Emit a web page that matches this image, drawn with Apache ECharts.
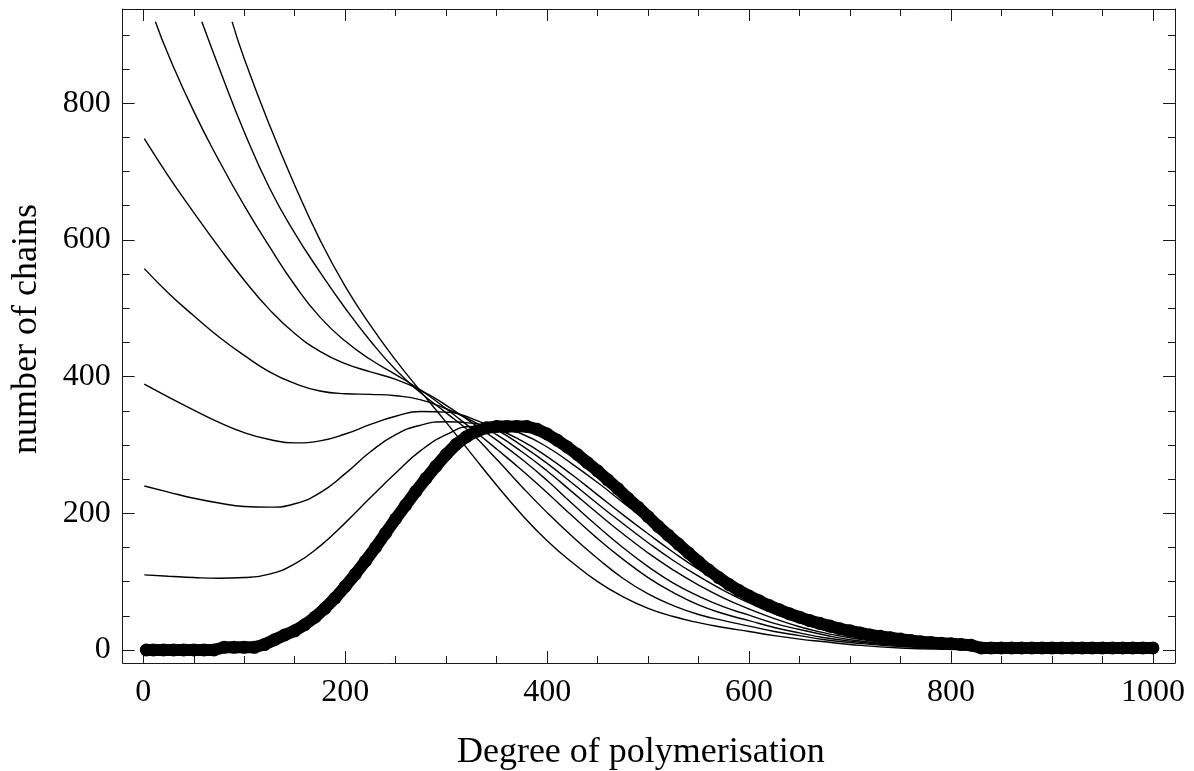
<!DOCTYPE html>
<html>
<head>
<meta charset="utf-8">
<script src="https://cdn.jsdelivr.net/npm/echarts@6/dist/echarts.min.js"></script>
<style>
html,body{margin:0;padding:0;background:#fff;}
#chart{width:1194px;height:771px;}
</style>
</head>
<body>
<div id="chart"></div>
<script>
// ---- data ----
const xMajorTicks = [0, 200, 400, 600, 800, 1000];
const xMinorTicks = [50, 100, 150, 250, 300, 350, 450, 500, 550, 650, 700, 750, 850, 900, 950];
const yMajorTicks = [0, 200, 400, 600, 800];
const yMinorTicks = [50, 100, 150, 250, 300, 350, 450, 500, 550, 650, 700, 750, 850, 900];

const xTitle = 'Degree of polymerisation';
const yTitle = 'number of chains';

// measured distribution (thick dotted curve)
const dotX = [3, 10, 20, 30, 40, 50, 60, 70, 80, 90, 100, 110, 120, 130, 140, 150, 160, 170, 180, 190,
  200, 210, 220, 230, 240, 250, 260, 270, 280, 290, 300, 310, 320, 330, 340, 350, 360, 370, 380, 390,
  400, 410, 420, 430, 440, 450, 460, 470, 480, 490, 500, 510, 520, 530, 540, 550, 560, 570, 580, 590,
  600, 610, 620, 630, 640, 650, 660, 670, 680, 690, 700, 710, 720, 730, 740, 750, 760, 770, 780, 790,
  800, 810, 820, 830, 840, 850, 860, 870, 880, 890, 900, 910, 920, 930, 940, 950, 960, 970, 980, 990, 1000];
const dotY = [0, 0, 0, 0, 0, 0, 0, 0, 4, 4, 4, 4, 8, 15, 22, 28, 37, 48, 61, 76,
  93, 111, 130, 150, 171, 192, 212, 232, 251, 269, 286, 301, 312, 320, 325, 327, 327, 327, 327, 323,
  316, 307, 297, 286, 274, 262, 249, 236, 222, 209, 195, 181, 168, 155, 142, 129, 117, 106, 96, 87,
  79, 72, 65, 59, 53, 48, 43, 39, 35, 31, 28, 25, 22, 20, 18, 16, 14, 12, 11, 10,
  9, 8, 7, 3, 3, 3, 3, 3, 3, 3, 3, 3, 3, 3, 3, 3, 3, 3, 3, 3, 3];

// model curves [x, y]
const curve1 = [[1,110],[25,108],[50,106],[75,105],[100,106],[125,111],[150,126],[175,152],[200,186],[225,223],[250,259],[275,292],[300,315],[325,327],[350,327],[375,316],[400,297],[425,272],[450,245],[475,216],[500,187],[525,158],[550,130],[575,105],[600,83],[625,66],[650,51],[675,38],[700,28],[750,14],[800,6],[850,3],[900,1],[1000,0]];
const curve2 = [[1,240],[25,231],[50,222],[75,215],[100,210],[125,209],[150,214],[175,230],[200,258],[225,290],[250,315],[275,329],[300,334],[325,332],[350,323],[375,306],[400,283],[425,256],[450,227],[475,198],[500,170],[525,143],[550,118],[575,96],[600,76],[625,59],[650,46],[675,34],[700,25],[750,12],[800,5],[850,2],[900,1],[1000,0]];
const curve3 = [[1,389],[25,370],[50,351],[75,333],[100,318],[125,308],[150,303],[175,306],[200,316],[225,330],[250,342],[275,349],[300,348],[325,339],[350,322],[375,299],[400,273],[425,244],[450,214],[475,185],[500,157],[525,131],[550,108],[575,87],[600,69],[625,53],[650,40],[675,29],[700,21],[750,10],[800,4],[850,2],[900,1],[1000,0]];
const curve4 = [[1,558],[25,522],[50,489],[75,458],[100,431],[125,407],[150,390],[175,379],[200,375],[225,374],[250,372],[275,366],[300,353],[325,336],[350,315],[375,290],[400,262],[425,231],[450,200],[475,170],[500,142],[525,117],[550,95],[575,76],[600,60],[625,46],[650,34],[675,25],[700,18],[750,8],[800,3],[850,1],[900,0],[1000,0]];
const curve5 = [[1,748],[25,693],[50,640],[75,589],[100,541],[125,498],[150,463],[175,437],[200,419],[225,407],[250,396],[275,380],[300,358],[325,333],[350,307],[375,279],[400,248],[425,214],[450,181],[475,150],[500,122],[525,98],[550,79],[575,63],[600,51],[625,39],[650,30],[675,22],[700,15],[750,7],[800,3],[850,1],[900,0],[1000,0]];
const curve6 = [[12,919],[25,870],[50,788],[75,716],[100,650],[125,590],[150,534],[175,487],[200,452],[225,425],[250,403],[275,380],[300,353],[325,324],[350,294],[375,263],[400,230],[425,196],[450,163],[475,133],[500,106],[525,84],[550,66],[575,53],[600,43],[625,33],[650,25],[675,18],[700,13],[750,6],[800,2],[850,1],[900,0],[1000,0]];
const curve7 = [[58,919],[75,852],[100,758],[125,676],[150,610],[175,553],[200,500],[225,452],[250,410],[275,376],[300,347],[325,317],[350,279],[375,239],[400,201],[425,166],[450,134],[475,105],[500,82],[525,65],[550,52],[575,43],[600,35],[625,27],[650,21],[675,15],[700,11],[750,5],[800,2],[850,1],[900,0],[1000,0]];
const curve8 = [[88,919],[100,865],[125,768],[150,680],[175,600],[200,532],[225,475],[250,424],[275,378],[300,333],[325,287],[350,241],[375,198],[400,160],[425,128],[450,100],[475,78],[500,61],[525,49],[550,40],[575,33],[600,27],[625,21],[650,16],[675,12],[700,8],[750,3],[800,1],[850,0],[1000,0]];
const modelCurves = [curve1, curve2, curve3, curve4, curve5, curve6, curve7, curve8];

// ---- chart ----
const FONT = 'Liberation Serif';
const INK = '#1a1a1a';
const X_MIN = -20.4, X_MAX = 1021.9, Y_MIN = -19, Y_MAX = 937.8;
const plain = function (v) { return String(v); };

function xAx(position, ticks, len, showLine, showLabel) {
  return {
    type: 'value', position: position, min: X_MIN, max: X_MAX,
    splitLine: {show: false},
    axisLine: {show: showLine, onZero: false, lineStyle: {color: INK, width: 1}},
    axisTick: {show: true, inside: true, length: len, customValues: ticks, lineStyle: {color: INK, width: 1}},
    axisLabel: showLabel ? {show: true, customValues: ticks, formatter: plain, fontFamily: FONT, fontSize: 32, color: '#000', margin: 14}
                         : {show: false}
  };
}
function yAx(position, ticks, len, showLine, showLabel) {
  return {
    type: 'value', position: position, min: Y_MIN, max: Y_MAX,
    splitLine: {show: false},
    axisLine: {show: showLine, onZero: false, lineStyle: {color: INK, width: 1}},
    axisTick: {show: true, inside: true, length: len, customValues: ticks, lineStyle: {color: INK, width: 1}},
    axisLabel: showLabel ? {show: true, customValues: ticks, formatter: plain, fontFamily: FONT, fontSize: 32, color: '#000', margin: 12}
                         : {show: false}
  };
}

const xAxes = [
  Object.assign(xAx('bottom', xMajorTicks, 12, true, true), {
    name: xTitle, nameLocation: 'middle', nameGap: 72,
    nameTextStyle: {fontFamily: FONT, fontSize: 36, color: '#000', padding: [0, 16, 0, 0]}
  }),
  xAx('bottom', xMinorTicks, 7, false, false),
  xAx('top', xMajorTicks, 12, true, false),
  xAx('top', xMinorTicks, 7, false, false)
];
const yAxes = [
  Object.assign(yAx('left', yMajorTicks, 12, true, true), {
    name: yTitle, nameLocation: 'middle', nameGap: 78, nameRotate: 90,
    nameTextStyle: {fontFamily: FONT, fontSize: 36, color: '#000', padding: [0, 0, 0, 14]}
  }),
  yAx('left', yMinorTicks, 7, false, false),
  yAx('right', yMajorTicks, 12, true, false),
  yAx('right', yMinorTicks, 7, false, false)
];

const series = modelCurves.map(function (c) {
  return {
    type: 'line', data: c, xAxisIndex: 0, yAxisIndex: 0,
    smooth: 0.5, showSymbol: false, clip: true,
    lineStyle: {color: '#000', width: 1.4}, z: 3
  };
});
series.push({
  type: 'line', xAxisIndex: 0, yAxisIndex: 0,
  data: dotX.map(function (x, i) { return [x, dotY[i]]; }),
  showSymbol: true, showAllSymbol: true, symbol: 'circle', symbolSize: 13,
  itemStyle: {color: '#000'},
  lineStyle: {color: '#000', width: 12, cap: 'round', join: 'round'},
  clip: true, z: 4
});

const chart = echarts.init(document.getElementById('chart'), null, {renderer: 'canvas'});
chart.setOption({
  animation: false,
  backgroundColor: '#fff',
  grid: {left: 122.7, right: 19, top: 9, bottom: 108, containLabel: false, outerBoundsMode: 'none'},
  xAxis: xAxes,
  yAxis: yAxes,
  series: series
});
</script>
</body>
</html>
